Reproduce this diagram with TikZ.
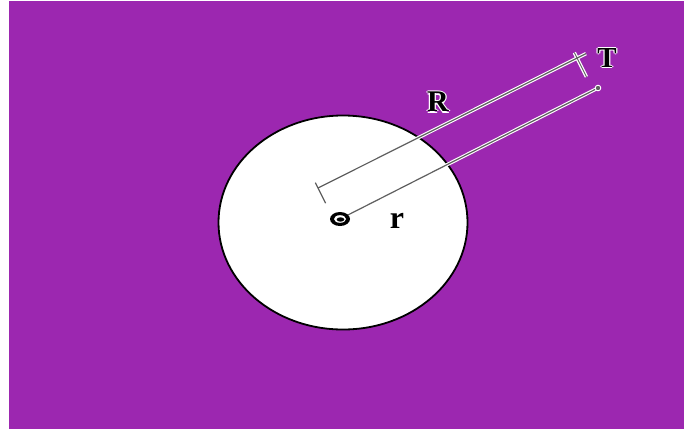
\documentclass[tikz,border=0pt]{standalone}
\usepackage{fontspec}
\setmainfont{Liberation Serif}
\usetikzlibrary{calc}
\definecolor{bgpurple}{RGB}{156,39,176}
\definecolor{linegray}{RGB}{95,95,95}
\newcommand{\halotxt}[1]{%
  \makebox[0pt][l]{\color{white}\hspace{1.3pt}#1}%
  \makebox[0pt][l]{\color{white}\hspace{-1.3pt}#1}%
  \makebox[0pt][l]{\color{white}\raisebox{1.3pt}{#1}}%
  \makebox[0pt][l]{\color{white}\raisebox{-1.3pt}{#1}}%
  #1}
\tikzset{
  underlay/.style={draw=white, line width=3.4pt},
  measure/.style={draw=linegray, line width=1.2pt},
  lbl/.style={inner sep=0pt, font=\bfseries},
}
\begin{document}
\begin{tikzpicture}[x=1pt,y=-1pt]
\useasboundingbox (0,0) rectangle (684,429);
\fill[white] (0,0) rectangle (684,429);
\fill[bgpurple] (9,1) rectangle (684,429);
% disc
\filldraw[fill=white, draw=black, line width=1.8pt] (343,222.5) ellipse [x radius=124.5, y radius=107];
% key points
\coordinate (S1) at (318,188);
\coordinate (E1) at (586,53.6);
\coordinate (T1) at (577,58);
\coordinate (C) at (340,219);
\coordinate (E2) at (598,88);
\coordinate (S1a) at ($(S1)+(-2.7,-5.4)$);
\coordinate (S1b) at ($(S1)+(7.6,15.2)$);
\coordinate (T1a) at ($(T1)+(-2.7,-5.4)$);
\coordinate (T1b) at ($(T1)+(9.4,18.8)$);
% white underlays (visible on purple only)
\draw[underlay] (S1) -- (E1);
\draw[underlay] (C) -- (E2);
\draw[underlay] (T1a) -- (T1b);
% lines
\draw[measure] (S1) -- (E1);
\draw[measure] (C) -- (E2);
\draw[measure] (S1a) -- (S1b);
\draw[measure, line width=0.9pt] (T1a) -- (T1b);
% end marker
\filldraw[draw=white, fill=linegray, line width=0.9pt] (E2) circle (2.8);
% centre hole
\fill[black] (C) ellipse [x radius=10, y radius=7];
\fill[white] (C) ellipse [x radius=6, y radius=3.8];
\fill[black] ($(C)+(0.5,0.5)$) ellipse [x radius=3.8, y radius=2.2];
% labels
\node[lbl, font=\bfseries\fontsize{30}{30}\selectfont] (labR) at (438,102) {\halotxt{R}};
\node[lbl, font=\bfseries\fontsize{29}{29}\selectfont] (labT) at (607,58) {\halotxt{T}};
\node[lbl, font=\bfseries\fontsize{32}{32}\selectfont] (labr) at (397,221) {r};
\end{tikzpicture}
\end{document}
